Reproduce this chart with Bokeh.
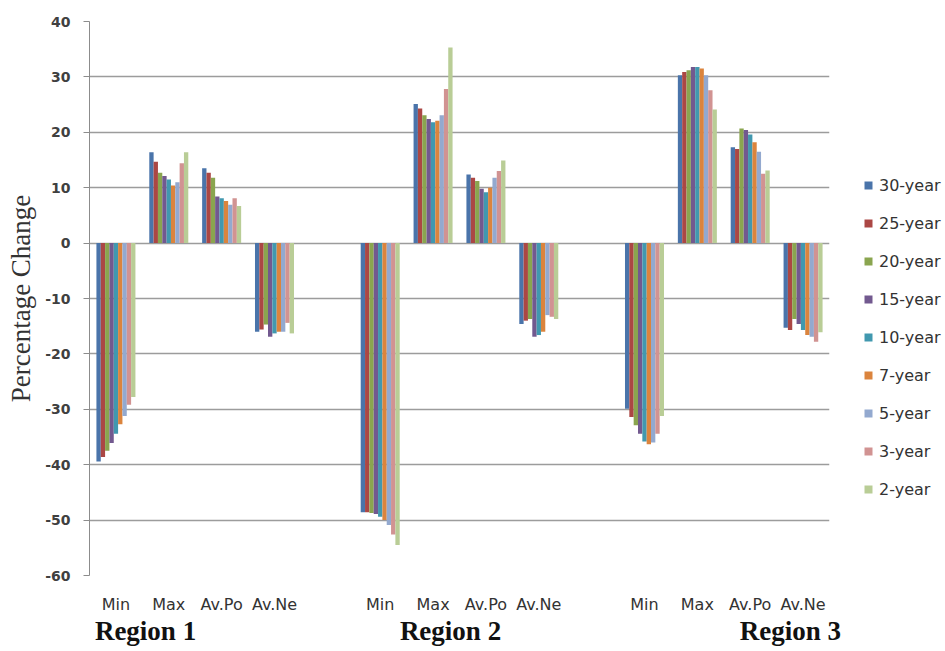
from bokeh.plotting import figure
from bokeh.layouts import row
from bokeh.models import (ColumnDataSource, Range1d, LinearAxis, FixedTicker,
                          Legend, LegendItem)
from bokeh.embed import file_html
from bokeh.resources import INLINE

# ---------------- data ----------------
stats = ["Min", "Max", "Av.Po", "Av.Ne"]
regions = ["Region 1", "Region 2", "Region 3"]
series = ["30-year", "25-year", "20-year", "15-year", "10-year",
          "7-year", "5-year", "3-year", "2-year"]
colors = ["#4a74aa", "#ab4744", "#8aa54f", "#72598f", "#4198af",
          "#db843d", "#93a9cf", "#d19392", "#b9cd96"]
y_ticks = [-60, -50, -40, -30, -20, -10, 0, 10, 20, 30, 40]

# order: R1 Min, Max, Av.Po, Av.Ne, R2 ..., R3 ...
y30 = [-39.4, 16.4, 13.5, -16.0, -48.6, 25.1, 12.4, -14.6, -29.9, 30.3, 17.3, -15.3]
y25 = [-38.6, 14.7, 12.7, -15.6, -48.6, 24.3, 11.8, -14.0, -31.4, 30.9, 17.0, -15.7]
y20 = [-37.5, 12.7, 11.8, -14.7, -48.7, 23.1, 11.2, -13.7, -32.9, 31.2, 20.7, -13.7]
y15 = [-36.1, 12.1, 8.4, -16.9, -48.9, 22.4, 9.8, -16.9, -34.4, 31.8, 20.4, -14.6]
y10 = [-34.4, 11.5, 8.1, -16.3, -49.4, 21.8, 9.2, -16.6, -35.8, 31.8, 19.6, -15.7]
y7 = [-32.7, 10.4, 7.6, -16.0, -50.0, 22.1, 10.0, -16.0, -36.3, 31.5, 18.2, -16.6]
y5 = [-31.2, 11.0, 6.9, -16.0, -50.9, 23.1, 11.8, -13.0, -36.0, 30.3, 16.5, -16.9]
y3 = [-29.2, 14.4, 8.1, -14.4, -52.6, 27.8, 13.0, -13.3, -34.4, 27.6, 12.5, -17.8]
y2 = [-27.8, 16.4, 6.7, -16.3, -54.5, 35.3, 14.9, -13.7, -31.2, 24.1, 13.1, -16.1]
values = [y30, y25, y20, y15, y10, y7, y5, y3, y2]

# ---------------- layout helpers ----------------
slot = len(stats) + 1          # one empty category between regions
cat_pos = [r * slot + s for r in range(len(regions)) for s in range(len(stats))]
cat_labels = [s for r in regions for s in stats]
bw = 0.082
region_label_pos = [0.56, 6.33, 12.76]

p = figure(width=860, height=651, output_backend="svg", toolbar_location=None,
           x_range=Range1d(-0.5, len(regions) * slot - 1.5),
           y_range=Range1d(y_ticks[0], y_ticks[-1]),
           min_border_left=89, min_border_right=31, min_border_top=21,
           min_border_bottom=76)
p.outline_line_color = None
p.background_fill_color = "white"
p.xgrid.visible = False
p.ygrid.grid_line_color = "#9c9c9c"
p.ygrid.grid_line_width = 1.3

sources = []
for j, (name, col, vals) in enumerate(zip(series, colors, values)):
    xs = [c + (j - (len(series) - 1) / 2) * bw for c in cat_pos]
    src = ColumnDataSource(dict(x=xs, top=vals))
    sources.append(src)
    p.vbar(x="x", top="top", bottom=0, width=bw, source=src,
           fill_color=col, line_color=None)

# y axis
ya = p.yaxis[0]
ya.ticker = FixedTicker(ticks=y_ticks)
ya.major_label_overrides = {t: str(t) for t in y_ticks}
ya.axis_label = "Percentage Change"
ya.axis_label_text_font = "Liberation Serif"
ya.axis_label_text_font_style = "normal"
ya.axis_label_text_font_size = "27px"
ya.axis_label_text_color = "#333333"
ya.axis_label_standoff = 6
ya.major_label_text_font = "DejaVu Sans"
ya.major_label_text_font_style = "bold"
ya.major_label_text_font_size = "14px"
ya.major_label_text_color = "#404040"
ya.major_tick_in = 0
ya.major_tick_out = 6
ya.major_label_standoff = 13
ya.minor_tick_line_color = None
ya.axis_line_color = "#8c8c8c"
ya.major_tick_line_color = "#8c8c8c"

# category axis
xa = p.xaxis[0]
xa.ticker = FixedTicker(ticks=cat_pos)
xa.major_label_overrides = {c: l for c, l in zip(cat_pos, cat_labels)}
xa.axis_line_color = None
xa.major_tick_line_color = None
xa.minor_tick_line_color = None
xa.major_label_standoff = 13
xa.major_label_text_font = "DejaVu Sans"
xa.major_label_text_font_size = "16px"
xa.major_label_text_color = "#333333"

# region axis
ra = LinearAxis(ticker=FixedTicker(ticks=region_label_pos),
                major_label_overrides={x: l for x, l in zip(region_label_pos, regions)})
ra.axis_line_color = None
ra.major_tick_line_color = None
ra.minor_tick_line_color = None
ra.major_label_standoff = -7
ra.major_label_text_font = "Liberation Serif"
ra.major_label_text_font_style = "bold"
ra.major_label_text_font_size = "27px"
ra.major_label_text_color = "#111111"
p.add_layout(ra, "below")

# ---------------- legend (separate narrow panel) ----------------
# legend panel: its own glyphs share the series data but lie outside its ranges
lf = figure(width=85, height=651, output_backend="svg", toolbar_location=None,
            x_range=Range1d(-200, -199), y_range=Range1d(0, 1),
            min_border_left=0, min_border_right=0, min_border_top=21,
            min_border_bottom=76)
lf.axis.visible = False
lf.grid.visible = False
lf.outline_line_color = None

items = []
for name, col, src in zip(series, colors, sources):
    r = lf.vbar(x="x", top="top", bottom=0, width=bw, source=src,
                fill_color=col, line_color=None)
    items.append(LegendItem(label=name, renderers=[r]))

legend = Legend(items=items, location=(3, 76), orientation="vertical")
legend.border_line_color = None
legend.background_fill_alpha = 0
legend.padding = 0
legend.margin = 0
legend.spacing = 18
legend.label_height = 20
legend.glyph_height = 10
legend.glyph_width = 10
legend.label_standoff = 6
legend.label_text_font = "DejaVu Sans"
legend.label_text_font_size = "16px"
legend.label_text_color = "#333333"
lf.add_layout(legend)

layout = row(p, lf, spacing=0)
open("out.html", "w").write(file_html(layout, INLINE))
